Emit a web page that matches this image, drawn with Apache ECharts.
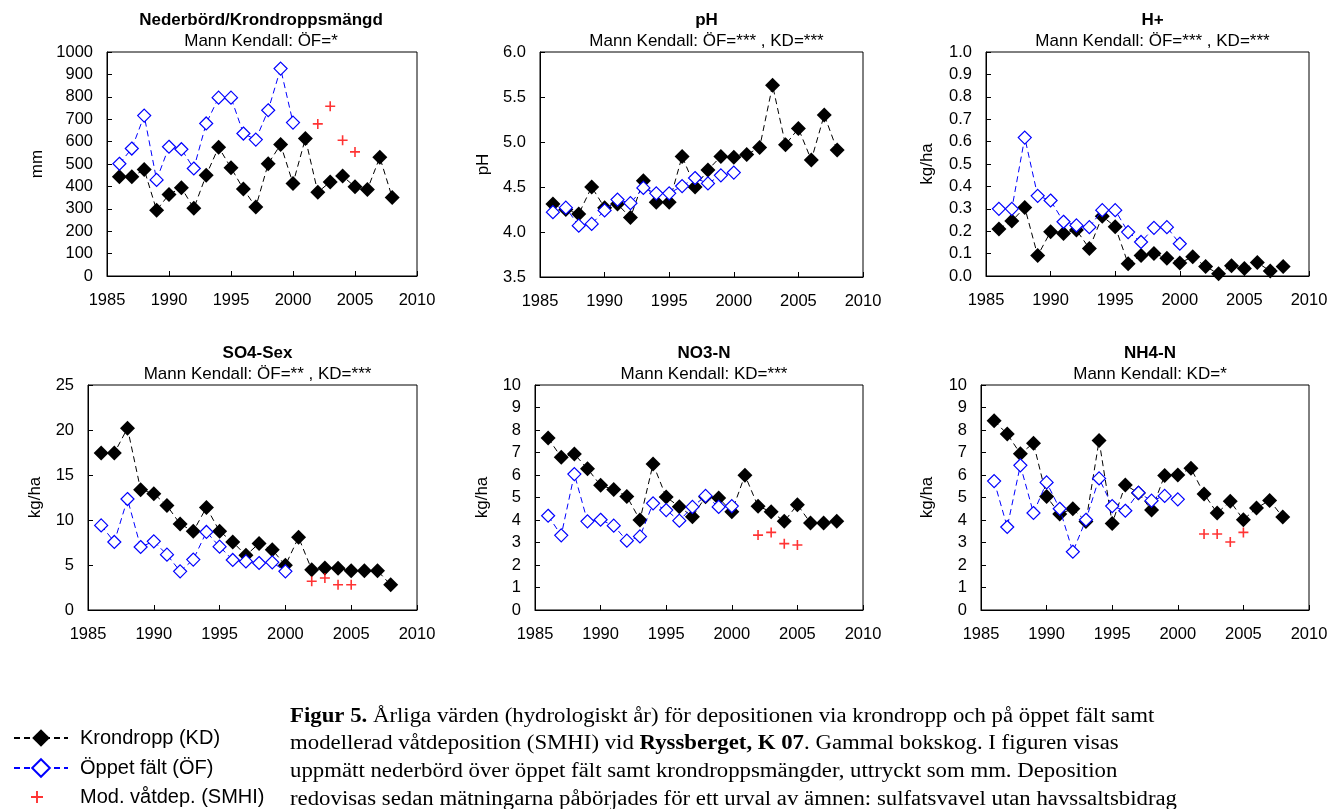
<!DOCTYPE html>
<html>
<head>
<meta charset="utf-8">
<script src="https://cdn.jsdelivr.net/npm/echarts@6/dist/echarts.min.js"></script>
<style>
html,body{margin:0;padding:0;background:#fff;}
#chart{width:1344px;height:809px;}
</style>
</head>
<body>
<div id="chart"></div>
<script>
// ---- data ----
const years = [1986,1987,1988,1989,1990,1991,1992,1993,1994,1995,1996,1997,1998,1999,2000,2001,2002,2003,2004,2005,2006,2007,2008];
const smhiYears = [2002,2003,2004,2005];
const xTicks = [1985,1990,1995,2000,2005,2010];

const precipKD = [443,443,475,294,364,394,302,450,575,483,388,308,501,587,413,614,374,420,446,398,386,530,351];
const precipOF = [501,569,716,429,577,566,480,681,796,796,636,609,740,926,685];
const precipSMHI = [679,758,606,554];

const phKD = [4.31,4.25,4.20,4.50,4.27,4.31,4.16,4.57,4.33,4.33,4.84,4.50,4.69,4.84,4.83,4.86,4.94,5.63,4.97,5.15,4.80,5.30,4.91];
const phOF = [4.22,4.27,4.07,4.09,4.24,4.36,4.32,4.49,4.43,4.43,4.51,4.60,4.54,4.63,4.66];

const hKD = [0.21,0.245,0.306,0.091,0.198,0.19,0.205,0.123,0.267,0.22,0.055,0.091,0.10,0.079,0.058,0.086,0.042,0.01,0.046,0.033,0.06,0.022,0.042];
const hOF = [0.30,0.30,0.618,0.358,0.337,0.242,0.226,0.218,0.294,0.294,0.196,0.152,0.215,0.218,0.144];

const so4KD = [17.44,17.44,20.2,13.37,12.93,11.6,9.56,8.74,11.4,8.74,7.56,6.07,7.4,6.7,4.96,8.07,4.48,4.67,4.63,4.35,4.35,4.35,2.81];
const so4OF = [9.4,7.56,12.33,7.0,7.63,6.15,4.3,5.6,8.67,7.04,5.56,5.4,5.22,5.3,4.3];
const so4SMHI = [3.19,3.56,2.81,2.81];

const no3KD = [7.64,6.79,6.93,6.28,5.54,5.36,5.05,4.0,6.49,5.02,4.59,4.15,5.03,4.98,4.37,5.99,4.61,4.37,3.94,4.68,3.87,3.87,3.94];
const no3OF = [4.19,3.32,6.04,3.94,4.01,3.75,3.08,3.27,4.74,4.44,3.97,4.58,5.07,4.58,4.62];
const no3SMHI = [3.33,3.45,2.95,2.89];

const nh4KD = [8.41,7.82,6.95,7.41,5.04,4.27,4.5,3.93,7.53,3.85,5.56,5.2,4.44,5.98,6.0,6.3,5.16,4.31,4.83,4.01,4.53,4.87,4.13];
const nh4OF = [5.73,3.69,6.43,4.31,5.67,4.5,2.59,4.01,5.85,4.62,4.41,5.21,4.86,5.07,4.92];
const nh4SMHI = [3.38,3.38,3.02,3.45];

const titles = ['Nederbörd/Krondroppsmängd','pH','H+','SO4-Sex','NO3-N','NH4-N'];
const subtitles = ['Mann Kendall: ÖF=*','Mann Kendall: ÖF=*** , KD=***','Mann Kendall: ÖF=*** , KD=***','Mann Kendall: ÖF=** , KD=***','Mann Kendall: KD=***','Mann Kendall: KD=*'];
const yNames = ['mm','pH','kg/ha','kg/ha','kg/ha','kg/ha'];
const yAxes = [
  {min:0,max:1000,interval:100,dec:0},
  {min:3.5,max:6.0,interval:0.5,dec:1},
  {min:0,max:1.0,interval:0.1,dec:1},
  {min:0,max:25,interval:5,dec:0},
  {min:0,max:10,interval:1,dec:0},
  {min:0,max:10,interval:1,dec:0}
];
const seriesSets = [
  [precipKD,precipOF,precipSMHI],
  [phKD,phOF,null],
  [hKD,hOF,null],
  [so4KD,so4OF,so4SMHI],
  [no3KD,no3OF,no3SMHI],
  [nh4KD,nh4OF,nh4SMHI]
];
const legendNames = ['Krondropp (KD)','Öppet fält (ÖF)','Mod. våtdep. (SMHI)'];

// ---- layout ----
const grids = [
  {left:107,top:52,width:310,height:224,nameGap:61,tx:256},
  {left:540,top:52,width:323,height:225,nameGap:48},
  {left:986,top:52,width:323,height:224,nameGap:50},
  {left:88,top:385,width:329,height:225,nameGap:44},
  {left:535,top:385,width:328,height:225,nameGap:44},
  {left:981,top:385,width:328,height:225,nameGap:45}
];
const FONT = 'Liberation Sans, Arial, sans-serif';
const TICK = 16.5;
const plusPath = 'path://M4.2,0H5.8V4.2H10V5.8H5.8V10H4.2V5.8H0V4.2H4.2Z';

const legendTextStyle = (pad)=>({fontFamily:FONT,fontSize:20,color:'#000',padding:[0,0,0,pad]});
const option = {
  animation:false,
  backgroundColor:'#fff',
  title:[], grid:[], xAxis:[], yAxis:[], series:[],
  legend: [
    {orient:'vertical', left:8, top:723, itemWidth:54, itemHeight:22, itemGap:0,
     textStyle:legendTextStyle(7), data:[legendNames[0]]},
    {orient:'vertical', left:8, top:753, itemWidth:54, itemHeight:22, itemGap:0,
     textStyle:legendTextStyle(7), data:[legendNames[1]]},
    {orient:'vertical', left:26, top:782, itemWidth:12, itemHeight:12, itemGap:0,
     textStyle:legendTextStyle(32), data:[{name:legendNames[2],icon:plusPath}]}
  ],
  graphic:[]
};

grids.forEach((g,i)=>{
  option.grid.push({left:g.left,top:g.top,width:g.width,height:g.height,show:true,borderColor:'#000',borderWidth:1,backgroundColor:'transparent'});
  option.title.push({
    text:titles[i], subtext:subtitles[i],
    left:(g.tx!==undefined?g.tx:g.left+g.width/2), top:g.top-45, textAlign:'center', itemGap:4,
    textStyle:{fontFamily:FONT,fontSize:17,fontWeight:'bold',color:'#000'},
    subtextStyle:{fontFamily:FONT,fontSize:17,color:'#000'}
  });
  option.xAxis.push({
    type:'value', gridIndex:i, min:1985, max:2010, interval:5,
    axisLine:{show:true,lineStyle:{color:'#000',width:1}},
    axisTick:{show:true,inside:true,length:5,lineStyle:{color:'#000'}},
    axisLabel:{fontFamily:FONT,fontSize:TICK,color:'#000',margin:16,formatter:v=>String(v)},
    splitLine:{show:false}
  });
  const ya = yAxes[i];
  option.yAxis.push({
    type:'value', gridIndex:i, min:ya.min, max:ya.max, interval:ya.interval,
    name:yNames[i], nameLocation:'middle', nameGap:g.nameGap, nameRotate:90,
    nameTextStyle:{fontFamily:FONT,fontSize:17,color:'#000'},
    axisLine:{show:true,lineStyle:{color:'#000',width:1}},
    axisTick:{show:true,inside:true,length:5,lineStyle:{color:'#000'}},
    axisLabel:{fontFamily:FONT,fontSize:TICK,color:'#000',margin:14,formatter:v=>v.toFixed(ya.dec)},
    splitLine:{show:false}
  });
  const [kd,of,smhi] = seriesSets[i];
  option.series.push({
    name:legendNames[0], type:'line', xAxisIndex:i, yAxisIndex:i,
    data:kd.map((v,k)=>[years[k],v]),
    symbol:'diamond', symbolSize:15,
    itemStyle:{color:'#000'},
    lineStyle:{color:'#000',width:1,type:[6,4]},
    z:2
  });
  option.series.push({
    name:legendNames[1], type:'line', xAxisIndex:i, yAxisIndex:i,
    data:of.map((v,k)=>[years[k],v]),
    symbol:'diamond', symbolSize:13, showAllSymbol:true,
    itemStyle:{color:'#fff',borderColor:'#0000ff',borderWidth:1.2},
    lineStyle:{color:'#0000ff',width:1,type:[6,4]},
    z:3
  });
  option.series.push({
    name:legendNames[2], type:'scatter', xAxisIndex:i, yAxisIndex:i,
    data:smhi?smhi.map((v,k)=>[smhiYears[k],v]):[],
    symbol:plusPath, symbolSize:10,
    itemStyle:{color:'#ff0000'},
    z:4
  });
});

// caption
const capLeft = 290;
const capFont = 'Liberation Serif, Times New Roman, serif';
const capLines = [
  [['b','Figur 5.'],['n',' Årliga värden (hydrologiskt år) för depositionen via krondropp och på öppet fält samt']],
  [['n','modellerad våtdeposition (SMHI) vid '],['b','Ryssberget, K 07'],['n','. Gammal bokskog. I figuren visas']],
  [['n','uppmätt nederbörd över öppet fält samt krondroppsmängder, uttryckt som mm. Deposition']],
  [['n','redovisas sedan mätningarna påbörjades för ett urval av ämnen: sulfatsvavel utan havssaltsbidrag']]
];
const capY = [718,745,773,801];
capLines.forEach((ln,i)=>{
  option.graphic.push({
    type:'text', x:capLeft, y:capY[i]-11, scaleX:1.14, originX:0, originY:0,
    style:{
      text: ln.map(p=>'{'+p[0]+'|'+p[1]+'}').join(''),
      rich:{
        b:{fontFamily:capFont,fontSize:20,fontWeight:'bold',fill:'#000'},
        n:{fontFamily:capFont,fontSize:20,fill:'#000'}
      }
    }
  });
});

const chart = echarts.init(document.getElementById('chart'),null,{renderer:'canvas'});
chart.setOption(option);
</script>
</body>
</html>
